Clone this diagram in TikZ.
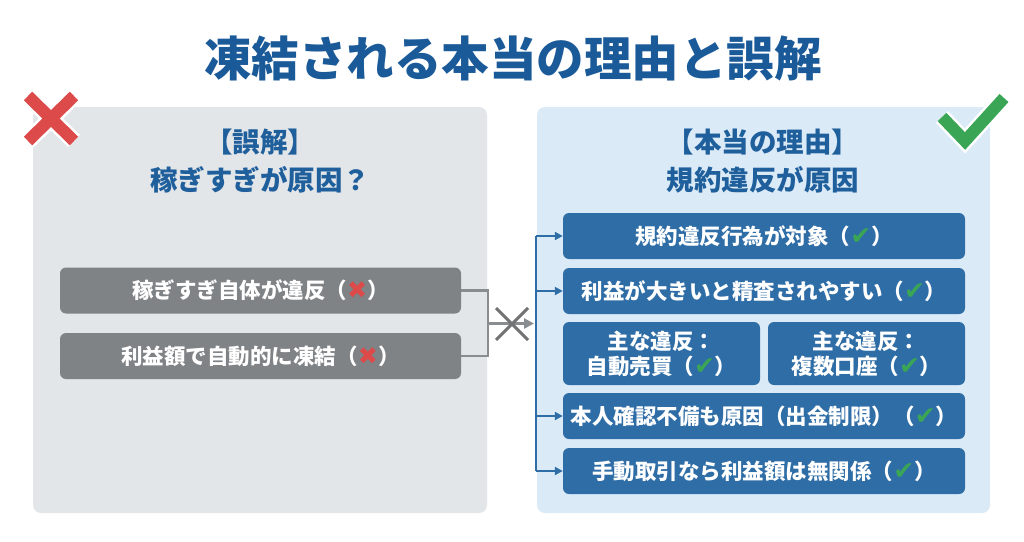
\documentclass[tikz,border=0pt]{standalone}
\usepackage{fontspec}
\usetikzlibrary{arrows.meta,calc}
\newfontfamily\jp{Noto Sans CJK JP}
\newfontfamily\dv{DejaVu Sans}
\definecolor{titleblue}{HTML}{1B5A99}
\definecolor{headblue}{HTML}{1F5F9C}
\definecolor{boxblue}{HTML}{2F6DA6}
\definecolor{boxgray}{HTML}{808386}
\definecolor{lpanel}{HTML}{E3E6E9}
\definecolor{rpanel}{HTML}{DBEAF7}
\definecolor{xred}{HTML}{DC4A4A}
\definecolor{ckgreen}{HTML}{3AA655}
\definecolor{linegray}{HTML}{8A8D90}
\newcommand{\okmark}{\textcolor{ckgreen}{\dv\fontsize{25}{25}\selectfont ✔}}
\newcommand{\ngmark}{\textcolor{xred}{\dv\fontsize{24}{24}\selectfont ✖}}
\begin{document}
\begin{tikzpicture}[x=1pt,y=1pt,
  panel/.style={rounded corners=8pt, draw=none},
  heading/.style={text=headblue, font=\jp\bfseries\fontsize{27.5}{33}\selectfont, align=center, inner sep=0pt},
  graybox/.style={fill=boxgray, rounded corners=6pt, text=white, font=\jp\bfseries\fontsize{21.5}{25}\selectfont, inner sep=0pt, align=center},
  bluebox/.style={fill=boxblue, rounded corners=6pt, text=white, font=\jp\bfseries\fontsize{21.5}{25}\selectfont, inner sep=0pt, align=center},
  grayline/.style={draw=linegray, line width=2.5pt},
  blueline/.style={draw=boxblue, line width=2pt},
]
\useasboundingbox (0,0) rectangle (1024,-541);
\fill[white] (0,0) rectangle (1024,-541);

% title
\node[text=titleblue, font=\jp\bfseries\fontsize{47.5}{52}\selectfont, inner sep=0pt] (title) at (513,-58) {凍結される本当の理由と誤解};

% panels
\fill[panel, fill=lpanel] (33,-107) rectangle (487,-513);
\fill[panel, fill=rpanel] (537,-107) rectangle (990,-513);

% big red X
\draw[white, line width=17pt] (28,-96) -- (74,-141) (28,-141) -- (74,-96);
\draw[xred, line width=12pt] (28,-96) -- (74,-141) (28,-141) -- (74,-96);

% big green check
\draw[white, line width=17pt, line join=miter] (942,-117) -- (965,-141) -- (1004,-98);
\draw[ckgreen, line width=12pt, line join=miter] (942,-117) -- (965,-141) -- (1004,-98);

% headings
\node[heading] (lh1) at (260,-142) {【誤解】};
\node[heading] (lh2) at (260,-180) {稼ぎすぎが原因？};
\node[heading] (rh1) at (763,-142) {【本当の理由】};
\node[heading] (rh2) at (763,-180) {規約違反が原因};

% left boxes
\node[graybox, minimum width=401pt, minimum height=46pt] (g1) at (260.5,-290.5) {稼ぎすぎ自体が違反（\ngmark）};
\node[graybox, minimum width=401pt, minimum height=46pt] (g2) at (260.5,-356) {利益額で自動的に凍結（\ngmark）};

% right boxes
\node[bluebox, minimum width=402pt, minimum height=46pt] (b1) at (764,-236) {規約違反行為が対象（\okmark）};
\node[bluebox, minimum width=402pt, minimum height=46pt] (b2) at (764,-291) {利益が大きいと精査されやすい（\okmark）};
\node[bluebox, minimum width=197pt, minimum height=63pt] (b3a) at (661.5,-353.5) {主な違反：\\自動売買（\okmark）};
\node[bluebox, minimum width=197pt, minimum height=63pt] (b3b) at (866.5,-353.5) {主な違反：\\複数口座（\okmark）};
\node[bluebox, minimum width=402pt, minimum height=46pt] (b4) at (764,-416) {本人確認不備も原因（出金制限）（\okmark）};
\node[bluebox, minimum width=402pt, minimum height=46pt] (b5) at (764,-471) {手動取引なら利益額は無関係（\okmark）};

% left connector
\coordinate (lj) at (488,-323.5);
\coordinate (la) at (534,-323.5);
\draw[grayline] (g1.east) -| (lj);
\draw[grayline] (g2.east) -| (lj);
\draw[grayline, -{Triangle[length=10pt,width=10pt]}] (lj) -- (la);
\coordinate (xc) at (512,-324);
\draw[draw=gray!90!black, line width=3pt] ($(xc)+(-16,16)$) -- ($(xc)+(16,-16)$);
\draw[draw=gray!90!black, line width=3pt] ($(xc)+(-16,-16)$) -- ($(xc)+(16,16)$);

% right connector
\coordinate (rt) at (536,-236);
\coordinate (rb) at (536,-471);
\coordinate (r2) at (536,-291);
\coordinate (r4) at (536,-416);
\draw[blueline] (rt) -- (rb);
\draw[blueline, -{Triangle[length=8pt,width=8pt]}] (rt) -- (b1.west);
\draw[blueline, -{Triangle[length=8pt,width=8pt]}] (r2) -- (b2.west);
\draw[blueline, -{Triangle[length=8pt,width=8pt]}] (r4) -- (b4.west);
\draw[blueline, -{Triangle[length=8pt,width=8pt]}] (rb) -- (b5.west);
\end{tikzpicture}
\end{document}
